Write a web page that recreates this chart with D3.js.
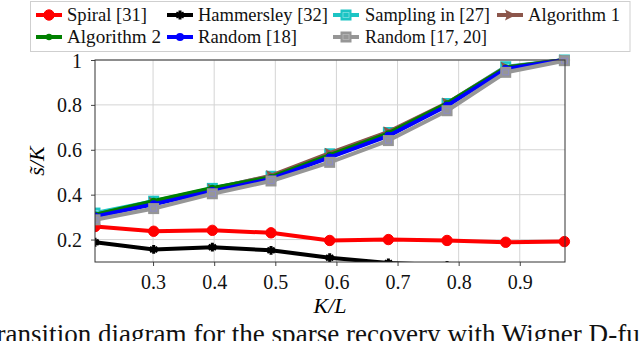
<!DOCTYPE html>
<html><head><meta charset="utf-8">
<script src="https://cdn.jsdelivr.net/npm/d3@7"></script>
<style>
html,body{margin:0;padding:0;background:#fff;}
svg{display:block;}
svg text{font-family:"Liberation Serif","DejaVu Serif","Times New Roman",Times,"Noto Serif",serif !important;}
</style>
</head><body>
<svg id="chart" width="640" height="341"></svg>
<script>
const xVals = [0.205, 0.301, 0.397, 0.493, 0.589, 0.685, 0.781, 0.877, 0.973];
const spiral = [0.258, 0.237, 0.241, 0.230, 0.196, 0.200, 0.196, 0.188, 0.191];
const hammersley = [0.188, 0.156, 0.166, 0.152, 0.119, 0.096, 0.085, 0.075, 0.070];
const sampling27 = [0.318, 0.371, 0.428, 0.482, 0.582, 0.677, 0.806, 0.970, 1.000];
const algorithm1 = [0.310, 0.366, 0.425, 0.485, 0.585, 0.680, 0.808, 0.968, 1.000];
const algorithm2 = [0.310, 0.372, 0.430, 0.478, 0.576, 0.673, 0.806, 0.966, 1.000];
const random18 = [0.303, 0.357, 0.416, 0.470, 0.566, 0.662, 0.796, 0.960, 1.000];
const random1720 = [0.288, 0.338, 0.404, 0.461, 0.544, 0.641, 0.774, 0.945, 0.997];
const xTicks = [0.3, 0.4, 0.5, 0.6, 0.7, 0.8, 0.9];
const yTicks = [0.2, 0.4, 0.6, 0.8, 1];
const seriesNames = ["Spiral [31]", "Hammersley [32]", "Sampling in [27]", "Algorithm 1",
                     "Algorithm 2", "Random [18]", "Random [17, 20]"];
const caption = "Transition diagram for the sparse recovery with Wigner D-functions";

const series = [
  {name: seriesNames[0], vals: spiral, color: "#ff0000", marker: "circle"},
  {name: seriesNames[1], vals: hammersley, color: "#000000", marker: "star"},
  {name: seriesNames[2], vals: sampling27, color: "#1cc4c4", marker: "square"},
  {name: seriesNames[3], vals: algorithm1, color: "#8c564b", marker: "tri"},
  {name: seriesNames[4], vals: algorithm2, color: "#008000", marker: "dot"},
  {name: seriesNames[5], vals: random18, color: "#0000ff", marker: "bdot"},
  {name: seriesNames[6], vals: random1720, color: "#969696", marker: "square"}
];

const svg = d3.select("#chart");
const L = 95, R = 565, T = 60, B = 262;
const x = d3.scaleLinear().domain([0.205, 0.974]).range([L, R]);
const y = d3.scaleLinear().domain([0.1, 1]).range([B, T]);

// grid
const grid = svg.append("g");
grid.selectAll(".gx").data(xTicks).enter().append("line")
  .attr("x1", d => x(d)).attr("x2", d => x(d)).attr("y1", T).attr("y2", B)
  .attr("stroke", "#d4d4d4").attr("stroke-width", 1);
grid.selectAll(".gy").data(yTicks).enter().append("line")
  .attr("x1", L).attr("x2", R).attr("y1", d => y(d)).attr("y2", d => y(d))
  .attr("stroke", "#d4d4d4").attr("stroke-width", 1);

// axes
const xAxis = svg.append("g").attr("transform", `translate(0,${B})`)
  .call(d3.axisBottom(x).tickValues(xTicks).tickSize(4).tickSizeOuter(0).tickPadding(8).tickFormat(d3.format(".1f")));
const yAxis = svg.append("g").attr("transform", `translate(${L},0)`)
  .call(d3.axisLeft(y).tickValues(yTicks).tickSize(4).tickSizeOuter(0).tickPadding(9).tickFormat(d => d === 1 ? "1" : d3.format(".1f")(d)));
[xAxis, yAxis].forEach(a => {
  a.attr("font-family", null);
  a.select(".domain").remove();
  a.selectAll(".tick line").attr("stroke", "#444");
  a.selectAll(".tick text").attr("font-size", 20).attr("fill", "#111");
});
xAxis.selectAll(".tick text").attr("dy", "0.75em");
yAxis.selectAll(".tick text").attr("dy", "0.35em");

// clip
svg.append("clipPath").attr("id", "clip").append("rect")
  .attr("x", L).attr("y", T - 8).attr("width", R - L + 8).attr("height", B - T + 8);

function drawMarker(g, m, color, cx, cy, legend) {
  if (m === "circle") {
    g.append("circle").attr("cx", cx).attr("cy", cy).attr("r", 5.2).attr("fill", color).attr("stroke", color);
  } else if (m === "star") {
    g.append("path").attr("transform", `translate(${cx},${cy})`)
      .attr("d", d3.symbol(d3.symbolAsterisk, 55)()).attr("stroke", color).attr("stroke-width", 3).attr("fill", "none");
  } else if (m === "square") {
    const s = 11;
    g.append("rect").attr("x", cx - s / 2).attr("y", cy - s / 2).attr("width", s).attr("height", s).attr("fill", color);
    const inner = color === "#969696" ? (legend ? "#b8b8b8" : "#8a8ad0") : "#7fe0e0";
    g.append("rect").attr("x", cx - 3).attr("y", cy - 2.5).attr("width", 6).attr("height", 5)
      .attr("fill", "none").attr("stroke", inner).attr("stroke-width", 0.8);
  } else if (m === "tri") {
    g.append("path").attr("d", `M${cx + 6},${cy} L${cx - 5},${cy - 5.5} L${cx - 3},${cy} L${cx - 5},${cy + 5.5} Z`)
      .attr("fill", color);
  } else if (m === "dot") {
    g.append("circle").attr("cx", cx).attr("cy", cy).attr("r", 3.2).attr("fill", color);
  } else if (m === "bdot") {
    g.append("circle").attr("cx", cx).attr("cy", cy).attr("r", 4).attr("fill", color);
  }
}

const plot = svg.append("g").attr("clip-path", "url(#clip)");
const line = d3.line().x((d, i) => x(xVals[i])).y(d => y(d));
series.forEach(s => {
  const g = plot.append("g");
  g.append("path").datum(s.vals).attr("d", line).attr("fill", "none")
    .attr("stroke", s.color).attr("stroke-width", 4).attr("stroke-linejoin", "round");
  s.vals.forEach((v, i) => drawMarker(g, s.marker, s.color, x(xVals[i]), y(v), false));
});

// frame
svg.append("rect").attr("x", L).attr("y", T).attr("width", R - L).attr("height", B - T)
  .attr("fill", "none").attr("stroke", "#333").attr("stroke-width", 1);

// axis labels
svg.append("text").attr("x", (L + R) / 2).attr("y", 313).attr("text-anchor", "middle")
  .attr("font-style", "italic").attr("font-size", 22).text("K/L");
svg.append("text").attr("transform", "translate(44,161) rotate(-90)").attr("text-anchor", "middle")
  .attr("font-style", "italic").attr("font-size", 22).text("s\u0303/K");

// legend
const lg = svg.append("g");
lg.append("rect").attr("x", 30.5).attr("y", 1.5).attr("width", 599.5).attr("height", 50)
  .attr("fill", "#fff").attr("stroke", "#cfcfcf").attr("stroke-width", 1);
const legendPos = [
  {lx: 36, tx: 67, tw: 80, row: 0}, {lx: 167, tx: 198, tw: 130, row: 0},
  {lx: 333, tx: 365, tw: 125, row: 0}, {lx: 497, tx: 528, tw: 92, row: 0},
  {lx: 36, tx: 67, tw: 94, row: 1}, {lx: 167, tx: 198, tw: 99, row: 1},
  {lx: 333, tx: 365, tw: 122, row: 1}
];
series.forEach((s, i) => {
  const p = legendPos[i];
  const cy = p.row === 0 ? 15 : 37;
  const g = lg.append("g");
  g.append("line").attr("x1", p.lx).attr("x2", p.lx + 26).attr("y1", cy).attr("y2", cy)
    .attr("stroke", s.color).attr("stroke-width", 4);
  drawMarker(g, s.marker, s.color, p.lx + 13, cy, true);
  g.append("text").attr("x", p.tx).attr("y", cy + 6).attr("font-size", 18.5)
    .attr("fill", "#111").attr("textLength", p.tw).attr("lengthAdjust", "spacingAndGlyphs").text(s.name);
});

// caption (cut off at the bottom of the picture, as in the reference)
const cap = svg.append("text").attr("y", 343).attr("font-size", 22)
  .attr("fill", "#111").text(caption);
const node = cap.node();
const iD = caption.indexOf("diagram"), iW = caption.indexOf("Wigner");
const span = node.getSubStringLength(iD, iW - iD);
const fs = 22 * 404 / span;
cap.attr("font-size", fs);
const pre = node.getSubStringLength(0, iD);
cap.attr("x", 98 - pre);
</script>
</body></html>
